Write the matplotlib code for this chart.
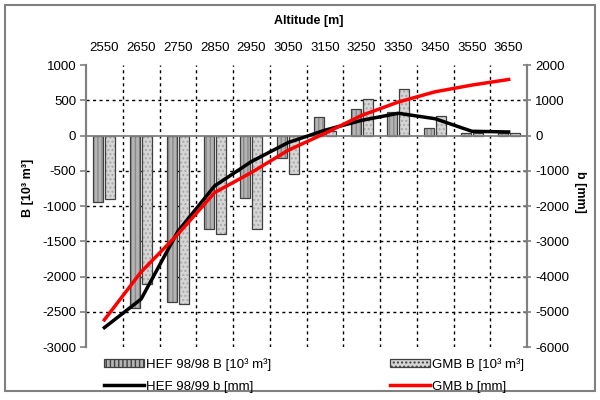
import matplotlib
matplotlib.use("Agg")
import matplotlib.pyplot as plt
from matplotlib.patches import Rectangle, Patch
from matplotlib.lines import Line2D
import numpy as np

plt.rcParams['font.family'] = ['Liberation Sans', 'DejaVu Sans']
plt.rcParams['axes.unicode_minus'] = False

altitudes = ["2550", "2650", "2750", "2850", "2950", "3050", "3150", "3250", "3350", "3450", "3550", "3650"]
hef_B = [-940, -2440, -2360, -1330, -880, -320, 260, 380, 330, 110, 40, 30]
gmb_B = [-900, -2110, -2390, -1395, -1330, -540, 60, 520, 665, 275, 40, 35]
hef_b = [-5450, -4640, -2720, -1430, -740, -200, 150, 430, 630, 476, 120, 100]
gmb_b = [-5230, -3870, -2800, -1620, -1050, -420, 60, 570, 950, 1240, 1430, 1590]

fig = plt.figure(figsize=(6, 4), dpi=100)
ax = fig.add_axes([86/600, 1-347/400, (527-86)/600, (347-65)/400])
ax2 = ax.twinx()

x = np.arange(len(altitudes))
w = 0.27
off = 0.165

# bars with texture
ax.bar(x - off, hef_B, w, color='#b4b4b4', hatch='||||', edgecolor='#8a8a8a', linewidth=0, zorder=2)
ax.bar(x - off, hef_B, w, color='none', edgecolor='#404040', linewidth=0.9, zorder=3)
ax.bar(x + off, gmb_B, w, color='#d6d6d6', hatch='....', edgecolor='#a8a8a8', linewidth=0, zorder=2)
ax.bar(x + off, gmb_B, w, color='none', edgecolor='#404040', linewidth=0.9, zorder=3)

ax.set_xlim(-0.5, len(altitudes) - 0.5)
ax.set_ylim(-3000, 1000)
ax.set_yticks(np.arange(-3000, 1001, 500))
ax.set_yticklabels([str(v) for v in range(-3000, 1001, 500)])

ax.axhline(0, color='#808080', lw=1.3, zorder=4)

# gridlines
for yv in range(-2500, 1000, 500):
    if yv != 0:
        ax.axhline(yv, color='black', lw=1.0, ls=(0, (2.2, 2.5)), zorder=1)
for xv in np.arange(0.5, len(altitudes) - 0.5, 1):
    ax.axvline(xv, color='black', lw=1.0, ls=(0, (2.2, 2.5)), zorder=1)

ax.xaxis.tick_top()
ax.set_xticks(x)
ax.set_xticklabels(altitudes, fontsize=9.5)
ax.tick_params(axis='x', length=0, pad=8)
ax.tick_params(axis='y', direction='out', length=4, width=1.2, color='#808080', labelsize=9.5, pad=3)

ax2.plot(x, hef_b, color='black', lw=2.5, zorder=5)
ax2.plot(x, gmb_b, color='#ff0000', lw=2.5, zorder=6)
ax2.set_ylim(-6000, 2000)
ax2.set_yticks(np.arange(-6000, 2001, 1000))
ax2.set_yticklabels([str(v) for v in range(-6000, 2001, 1000)])
ax2.tick_params(axis='y', direction='inout', length=6, width=1.2, color='#808080', labelsize=9.5, pad=3)
ax2.set_zorder(ax.get_zorder() + 1)
ax2.patch.set_visible(False)

for a in (ax, ax2):
    a.spines['top'].set_visible(False)
    a.spines['bottom'].set_visible(False)
    a.spines['left'].set_color('#808080')
    a.spines['right'].set_color('#808080')
    a.spines['left'].set_linewidth(1.5)
    a.spines['right'].set_linewidth(1.5)

fig.text(309/600, 1-21/400, 'Altitude [m]', ha='center', va='center', fontsize=9, fontweight='bold')
fig.text(28/600, 1-188/400, 'B [10³ m³]', ha='center', va='center', rotation=90, fontsize=9, fontweight='bold')
fig.text(580/600, 1-192/400, 'b [mm]', ha='center', va='center', rotation=270, fontsize=9, fontweight='bold')

handles = [
    Patch(facecolor='#b4b4b4', edgecolor='#404040', hatch='||||', lw=0.9),
    Line2D([], [], color='black', lw=2.5),
    Patch(facecolor='#d6d6d6', edgecolor='#404040', hatch='....', lw=0.9),
    Line2D([], [], color='#ff0000', lw=2.5),
]
labels = ['HEF 98/98 B [10³ m³]', 'HEF 98/99 b [mm]', 'GMB B [10³ m³]', 'GMB b [mm]']
fig.legend(handles, labels, ncol=2, loc='upper left', bbox_to_anchor=(104/600, 1-358/400),
           frameon=False, fontsize=9.5, handlelength=3.0, handleheight=0.6, handletextpad=0.2,
           columnspacing=9.0, labelspacing=0.75, borderpad=0, borderaxespad=0)

fig.patches.append(Rectangle((5/600, 1-391/400), 590/600, 386/400, transform=fig.transFigure,
                             facecolor='none', edgecolor='#808080', lw=1.5))

fig.savefig('out.png', dpi=100)
